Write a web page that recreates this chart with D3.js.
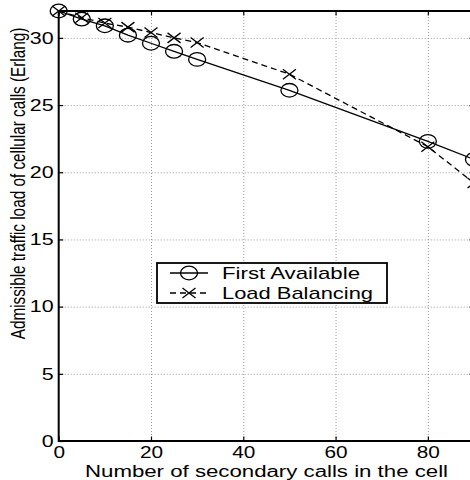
<!DOCTYPE html>
<html>
<head>
<meta charset="utf-8">
<script src="https://cdn.jsdelivr.net/npm/d3@7"></script>
<style>
html,body{margin:0;padding:0;background:#fff;}
svg{display:block;}
text{font-family:"Liberation Sans",Arial,Helvetica,sans-serif;fill:#000;}
</style>
</head>
<body>
<script>
// ---- data ----
const secondaryCalls = [0, 5, 10, 15, 20, 25, 30, 50, 80, 90];
const firstAvailable = [32.0, 31.4, 30.9, 30.2, 29.6, 29.0, 28.4, 26.1, 22.3, 20.95];
const loadBalancing  = [32.0, 31.5, 31.1, 30.8, 30.4, 30.0, 29.65, 27.3, 21.9, 19.2];
const xTickValues = [0, 20, 40, 60, 80];
const yTickValues = [0, 5, 10, 15, 20, 25, 30];
const seriesNames = ["First Available", "Load Balancing"];
const xTitle = "Number of secondary calls in the cell";
const yTitle = "Admissible traffic load of cellular calls (Erlang)";

const W = 470, H = 480;
const L = 58.7, R = 474, T = 11, B = 441;
const SX = 1.3; // horizontal glyph stretch of the original figure

const svg = d3.select("body").append("svg").attr("width", W).attr("height", H);

const x = d3.scaleLinear().domain([0, 90]).range([L, R]);
const y = d3.scaleLinear().domain([0, 32]).range([B, T]);

// grid
const grid = svg.append("g");
grid.append("g").attr("transform", `translate(0,${B})`)
  .call(d3.axisBottom(x).tickValues(xTickValues.filter(v => v > 0)).tickSize(-(B - T)).tickFormat(""))
  .call(g => g.select(".domain").remove())
  .call(g => g.selectAll("line").attr("stroke", "#9a9a9a").attr("stroke-width", 1).attr("stroke-dasharray", "1,2"));
grid.append("g").attr("transform", `translate(${L},0)`)
  .call(d3.axisLeft(y).tickValues(yTickValues.filter(v => v > 0 && v < 32)).tickSize(-(R - L)).tickFormat(""))
  .call(g => g.select(".domain").remove())
  .call(g => g.selectAll("line").attr("stroke", "#9a9a9a").attr("stroke-width", 1).attr("stroke-dasharray", "1,2"));

// frame
svg.append("rect").attr("x", L).attr("y", T).attr("width", R - L).attr("height", B - T)
  .attr("fill", "none").attr("stroke", "#000").attr("stroke-width", 2);

// axes
function styleText(g) {
  g.selectAll("text").each(function () {
    const t = d3.select(this);
    const x0 = +t.attr("x") || 0;
    t.attr("x", x0 / SX).attr("transform", `scale(${SX},1)`);
  });
}
svg.append("g").attr("transform", `translate(0,${B})`)
  .call(d3.axisBottom(x).tickValues(xTickValues).tickSize(-4.5).tickPadding(5.5))
  .call(g => g.select(".domain").remove())
  .call(g => g.selectAll("line").attr("stroke", "#000").attr("stroke-width", 1.2))
  .call(g => g.selectAll("text").attr("font-size", 16).attr("font-family", "Liberation Sans, Arial, sans-serif"))
  .call(styleText);
svg.append("g").attr("transform", `translate(0,${T})`)
  .call(d3.axisTop(x).tickValues(xTickValues).tickSize(-4.5).tickFormat(""))
  .call(g => g.select(".domain").remove())
  .call(g => g.selectAll("line").attr("stroke", "#000").attr("stroke-width", 1.2));
svg.append("g").attr("transform", `translate(${L},0)`)
  .call(d3.axisLeft(y).tickValues(yTickValues).tickSize(-4.5).tickPadding(5))
  .call(g => g.select(".domain").remove())
  .call(g => g.selectAll("line").attr("stroke", "#000").attr("stroke-width", 1.2))
  .call(g => g.selectAll("text").attr("font-size", 16.5).attr("font-family", "Liberation Sans, Arial, sans-serif"))
  .call(styleText);
svg.append("g").attr("transform", `translate(${R},0)`)
  .call(d3.axisRight(y).tickValues(yTickValues).tickSize(-4.5).tickFormat(""))
  .call(g => g.select(".domain").remove())
  .call(g => g.selectAll("line").attr("stroke", "#000").attr("stroke-width", 1.2));

// titles
svg.append("text").attr("x", 266.5).attr("y", 476.5).attr("text-anchor", "middle")
  .attr("font-size", 16).attr("textLength", 363).attr("lengthAdjust", "spacingAndGlyphs")
  .text(xTitle);
svg.append("text").attr("transform", `translate(25,183.5) rotate(-90) scale(1,${SX})`)
  .attr("text-anchor", "middle").attr("font-size", 15.3)
  .text(yTitle);

// series
const ptsA = secondaryCalls.map((c, i) => [c, firstAvailable[i]]);
const ptsB = secondaryCalls.map((c, i) => [c, loadBalancing[i]]);
const line = d3.line().x(d => x(d[0])).y(d => y(d[1]));

svg.append("path").datum(ptsA).attr("d", line).attr("fill", "none")
  .attr("stroke", "#000").attr("stroke-width", 1.3);
svg.append("path").datum(ptsB).attr("d", line).attr("fill", "none")
  .attr("stroke", "#000").attr("stroke-width", 1.3).attr("stroke-dasharray", "6,4");

const xMark = "M-6.5,-5L6.5,5M-6.5,5L6.5,-5";
svg.append("g").selectAll("ellipse").data(ptsA).join("ellipse")
  .attr("cx", d => x(d[0])).attr("cy", d => y(d[1])).attr("rx", 8.5).attr("ry", 6.8)
  .attr("fill", "none").attr("stroke", "#000").attr("stroke-width", 1.3);
svg.append("g").selectAll("path").data(ptsB).join("path")
  .attr("transform", d => `translate(${x(d[0])},${y(d[1])})`).attr("d", xMark)
  .attr("fill", "none").attr("stroke", "#000").attr("stroke-width", 1.3);

// legend
const lg = svg.append("g");
lg.append("rect").attr("x", 157).attr("y", 263).attr("width", 230).attr("height", 40)
  .attr("fill", "#fff").attr("stroke", "#000").attr("stroke-width", 1.8);
const rows = [
  { name: seriesNames[0], cy: 273, base: 279, len: 138, dash: null, mark: "o" },
  { name: seriesNames[1], cy: 293, base: 299, len: 151, dash: "6,4", mark: "x" }
];
rows.forEach(r => {
  lg.append("line").attr("x1", 170).attr("x2", 208).attr("y1", r.cy).attr("y2", r.cy)
    .attr("stroke", "#000").attr("stroke-width", 1.3).attr("stroke-dasharray", r.dash);
  if (r.mark === "o") {
    lg.append("ellipse").attr("cx", 189).attr("cy", r.cy).attr("rx", 8.5).attr("ry", 6.8)
      .attr("fill", "none").attr("stroke", "#000").attr("stroke-width", 1.3);
  } else {
    lg.append("path").attr("transform", `translate(189,${r.cy})`).attr("d", xMark)
      .attr("fill", "none").attr("stroke", "#000").attr("stroke-width", 1.3);
  }
  lg.append("text").attr("x", 222).attr("y", r.base).attr("font-size", 17)
    .attr("textLength", r.len).attr("lengthAdjust", "spacingAndGlyphs").text(r.name);
});
</script>
</body>
</html>
